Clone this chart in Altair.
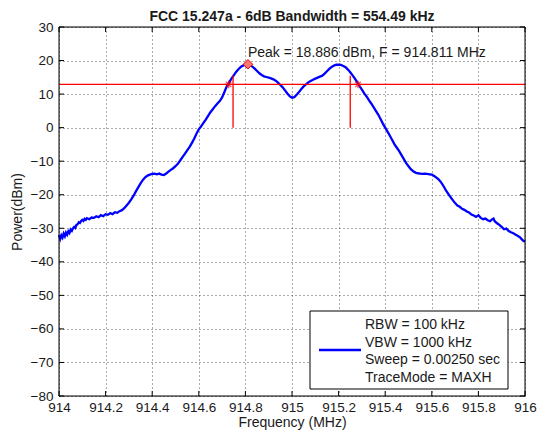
import altair as alt
import pandas as pd

# ---------------- data ----------------
freq = [914.000, 914.005, 914.010, 914.015, 914.020, 914.025, 914.030, 914.035, 914.040, 914.045,
        914.050, 914.055, 914.060, 914.065, 914.070, 914.075, 914.080, 914.085, 914.090, 914.095,
        914.100, 914.105, 914.110, 914.115, 914.120, 914.130, 914.140, 914.150, 914.160, 914.170,
        914.180, 914.190, 914.200, 914.210, 914.220, 914.230, 914.240, 914.250, 914.260, 914.270,
        914.280, 914.290, 914.300, 914.310, 914.320, 914.330, 914.340, 914.350, 914.360, 914.370,
        914.380, 914.390, 914.400, 914.410, 914.420, 914.430, 914.440, 914.450, 914.460, 914.470,
        914.480, 914.490, 914.500, 914.510, 914.520, 914.530, 914.540, 914.550, 914.560, 914.570,
        914.580, 914.590, 914.600, 914.610, 914.620, 914.630, 914.640, 914.650, 914.660, 914.670,
        914.680, 914.690, 914.700, 914.710, 914.720, 914.730, 914.740, 914.750, 914.760, 914.770,
        914.780, 914.790, 914.800, 914.811, 914.820, 914.830, 914.840, 914.850, 914.860, 914.870,
        914.880, 914.890, 914.900, 914.910, 914.920, 914.930, 914.940, 914.950, 914.960, 914.970,
        914.980, 914.990, 915.000, 915.010, 915.020, 915.030, 915.040, 915.050, 915.060, 915.070,
        915.080, 915.090, 915.100, 915.110, 915.120, 915.130, 915.140, 915.150, 915.160, 915.170,
        915.180, 915.190, 915.200, 915.210, 915.220, 915.230, 915.240, 915.250, 915.260, 915.270,
        915.280, 915.290, 915.300, 915.310, 915.320, 915.330, 915.340, 915.350, 915.360, 915.370,
        915.380, 915.390, 915.400, 915.410, 915.420, 915.430, 915.440, 915.450, 915.460, 915.470,
        915.480, 915.490, 915.500, 915.510, 915.520, 915.530, 915.540, 915.550, 915.560, 915.570,
        915.580, 915.590, 915.600, 915.610, 915.620, 915.630, 915.640, 915.650, 915.660, 915.670,
        915.680, 915.690, 915.700, 915.710, 915.720, 915.730, 915.740, 915.750, 915.760, 915.770,
        915.780, 915.790, 915.800, 915.810, 915.820, 915.830, 915.840, 915.850, 915.860, 915.865,
        915.870, 915.880, 915.890, 915.900, 915.910, 915.920, 915.930, 915.940, 915.950, 915.960,
        915.970, 915.980, 915.990, 916.000]

power = [-32.0, -33.2, -32.1, -32.8, -31.6, -32.4, -31.3, -31.9, -30.9, -31.4,
         -30.4, -30.8, -30.0, -29.6, -29.9, -29.0, -28.8, -28.2, -28.4, -27.8,
         -27.5, -27.8, -27.2, -27.5, -27.0, -27.3, -26.8, -26.9, -26.4, -26.7,
         -26.1, -26.4, -25.8, -26.0, -25.5, -25.8, -25.2, -25.4, -24.9, -24.6,
         -24.0, -23.2, -22.4, -21.4, -20.3, -19.0, -17.8, -16.6, -15.6, -14.8,
         -14.3, -14.0, -13.8, -13.7, -13.9, -13.7, -14.0, -14.1, -13.7, -13.1,
         -12.6, -12.1, -11.5, -10.8, -9.8, -8.8, -7.8, -6.8, -5.8, -4.6,
         -3.3, -1.8, -0.5, 0.4, 1.4, 2.4, 3.5, 4.6, 5.5, 6.4,
         7.2, 7.9, 9.0, 10.6, 12.3, 13.4, 14.6, 15.6, 16.6, 17.4,
         18.1, 18.5, 18.8, 18.886, 18.6, 18.2, 17.6, 16.9, 16.2, 15.7,
         15.3, 15.1, 14.9, 14.7, 14.4, 14.0, 13.4, 12.7, 12.0, 11.1,
         10.2, 9.4, 8.9, 9.1, 9.8, 10.6, 11.5, 12.3, 12.9, 13.5,
         13.9, 14.3, 14.6, 14.9, 15.2, 15.5, 16.1, 16.8, 17.5, 18.1,
         18.5, 18.75, 18.8, 18.7, 18.4, 18.0, 17.3, 16.5, 15.6, 14.6,
         13.5, 12.4, 11.3, 10.2, 9.3, 8.2, 7.2, 6.1, 5.0, 3.9,
         2.6, 1.2, 0.0, -1.2, -2.4, -3.7, -5.0, -6.0, -7.0, -8.2,
         -9.4, -10.6, -11.5, -12.4, -13.0, -13.4, -13.6, -13.7, -13.8, -13.7,
         -13.8, -13.9, -14.0, -14.4, -14.9, -15.5, -16.3, -17.4, -18.6, -19.7,
         -20.7, -21.6, -22.5, -23.2, -23.6, -24.2, -24.5, -25.0, -25.3, -25.9,
         -26.2, -26.6, -26.1, -26.9, -27.3, -27.1, -27.6, -27.9, -27.3, -27.1,
         -27.9, -28.5, -29.0, -29.6, -30.3, -30.1, -30.8, -31.2, -31.5, -31.9,
         -32.3, -32.8, -33.6, -34.0]

x_ticks = [914, 914.2, 914.4, 914.6, 914.8, 915, 915.2, 915.4, 915.6, 915.8, 916]
y_ticks = [-80, -70, -60, -50, -40, -30, -20, -10, 0, 10, 20, 30]

peak_freq = [914.811]
peak_power = [18.886]
threshold = [12.886]                 # peak - 6 dB
cross_freq = [914.728, 915.283]      # -6 dB crossings
marker_freq = [914.747, 915.250]     # vertical marker lines
marker_low = [0, 0]
marker_high = [15.5, 15.5]
peak_label = ["Peak = 18.886 dBm, F = 914.811 MHz"]
peak_label_y = [21.2]
legend_lines = ["RBW = 100 kHz", "VBW = 1000 kHz", "Sweep = 0.00250 sec", "TraceMode = MAXH"]
title_text = "FCC 15.247a - 6dB Bandwidth = 554.49 kHz"
x_title = "Frequency (MHz)"
y_title = "Power(dBm)"

# ---------------- chart ----------------
FONT = "Liberation Sans"
W, H = 466, 369

xscale = alt.Scale(domain=[914, 916], nice=False, zero=False)
yscale = alt.Scale(domain=[-80, 30], nice=False, zero=False)

xaxis = alt.Axis(values=x_ticks, format="~g",
                 grid=True, gridDash=[1, 3], gridColor="#555", gridWidth=1,
                 ticks=False, domain=False, labelFlush=False,
                 labelFont=FONT, labelFontSize=13.5, labelColor="#1a1a1a",
                 labelPadding=4, titleFont=FONT, titleFontSize=14,
                 titleFontWeight="normal", titleColor="#1a1a1a", titlePadding=2)
yaxis = alt.Axis(values=y_ticks,
                 grid=True, gridDash=[1, 3], gridColor="#555", gridWidth=1,
                 ticks=False, domain=False, labelFlush=False,
                 labelFont=FONT, labelFontSize=13.5, labelColor="#1a1a1a",
                 labelPadding=6, titleFont=FONT, titleFontSize=14,
                 titleFontWeight="normal", titleColor="#1a1a1a", titlePadding=6)


def X(field):
    return alt.X(field, scale=xscale, axis=xaxis, title=x_title)


def Y(field):
    return alt.Y(field, scale=yscale, axis=yaxis, title=y_title)


df = pd.DataFrame({"freq": freq, "power": power})

curve = alt.Chart(df).mark_line(color="#0000FF", strokeWidth=2.3).encode(
    x=X("freq:Q"), y=Y("power:Q"))

hline = alt.Chart(pd.DataFrame({"y": threshold})).mark_rule(
    color="#FF0000", strokeWidth=1.3).encode(y=Y("y:Q"))

vlines = alt.Chart(pd.DataFrame({"x": marker_freq, "y1": marker_low, "y2": marker_high})).mark_rule(
    color="#FF0000", strokeWidth=1.3).encode(x=X("x:Q"), y=Y("y1:Q"), y2="y2:Q")

ASTERISK = "M-1,0L1,0M0,-1L0,1M-0.7,-0.7L0.7,0.7M-0.7,0.7L0.7,-0.7"
cross_pts = alt.Chart(pd.DataFrame({"x": cross_freq, "y": threshold * 2})).mark_point(
    shape=ASTERISK, filled=False, color="#FF0000", size=60, strokeWidth=1.3).encode(
    x=X("x:Q"), y=Y("y:Q"))

peak_pt = alt.Chart(pd.DataFrame({"x": peak_freq, "y": peak_power})).mark_point(
    shape="diamond", filled=True, fill="#F47A7A", stroke="#FF0000", strokeWidth=1,
    size=90, opacity=1).encode(x=X("x:Q"), y=Y("y:Q"))

peak_txt = alt.Chart(pd.DataFrame({"x": peak_freq, "y": peak_label_y, "t": peak_label})).mark_text(
    align="left", baseline="alphabetic", font=FONT, fontSize=14, color="#1a1a1a").encode(
    x=X("x:Q"), y=Y("y:Q"), text="t:N")

legend_box = alt.Chart(pd.DataFrame({"k": [0]})).mark_rect(
    fill="white", stroke="black", strokeWidth=1).encode(
    x=alt.value(251), x2=alt.value(449), y=alt.value(284), y2=alt.value(362))
legend_line = alt.Chart(pd.DataFrame({"k": [0]})).mark_rule(
    color="#0000FF", strokeWidth=2.3).encode(
    x=alt.value(260), x2=alt.value(302), y=alt.value(323))
legend_text = alt.Chart(pd.DataFrame({"k": [0]})).mark_text(
    align="left", baseline="middle", font=FONT, fontSize=14, color="#1a1a1a",
    lineHeight=17.5).encode(
    x=alt.value(306), y=alt.value(298), text=alt.value(legend_lines))

title_mark = alt.Chart(pd.DataFrame({"k": [0]})).mark_text(
    align="center", baseline="alphabetic", font=FONT, fontSize=14, fontWeight="bold",
    color="#1a1a1a").encode(
    x=alt.value(W / 2), y=alt.value(-6), text=alt.value(title_text))

xt = pd.DataFrame({"t": x_ticks})
yt = pd.DataFrame({"t": y_ticks})
tick_b = alt.Chart(xt).mark_rule(color="black", strokeWidth=1).encode(
    x=X("t:Q"), y=alt.value(H), y2=alt.value(H - 5))
tick_t = alt.Chart(xt).mark_rule(color="black", strokeWidth=1).encode(
    x=X("t:Q"), y=alt.value(0), y2=alt.value(5))
tick_l = alt.Chart(yt).mark_rule(color="black", strokeWidth=1).encode(
    y=Y("t:Q"), x=alt.value(0), x2=alt.value(5))
tick_r = alt.Chart(yt).mark_rule(color="black", strokeWidth=1).encode(
    y=Y("t:Q"), x=alt.value(W), x2=alt.value(W - 5))

frame = alt.Chart(pd.DataFrame({"k": [0]})).mark_rect(
    fillOpacity=0, stroke="black", strokeWidth=1).encode(
    x=alt.value(0), x2=alt.value(W), y=alt.value(0), y2=alt.value(H))

chart = alt.layer(
    curve, hline, vlines, cross_pts, peak_pt, peak_txt,
    legend_box, legend_line, legend_text, title_mark,
    tick_b, tick_t, tick_l, tick_r, frame
).properties(
    width=W, height=H,
    autosize=alt.AutoSizeParams(type="none"),
    padding={"left": 51, "top": 19, "right": 13, "bottom": 36},
).configure_view(
    stroke=None, fill="white"
).configure(background="white")

chart.save("out.html", embed_options={"renderer": "svg", "actions": False})
